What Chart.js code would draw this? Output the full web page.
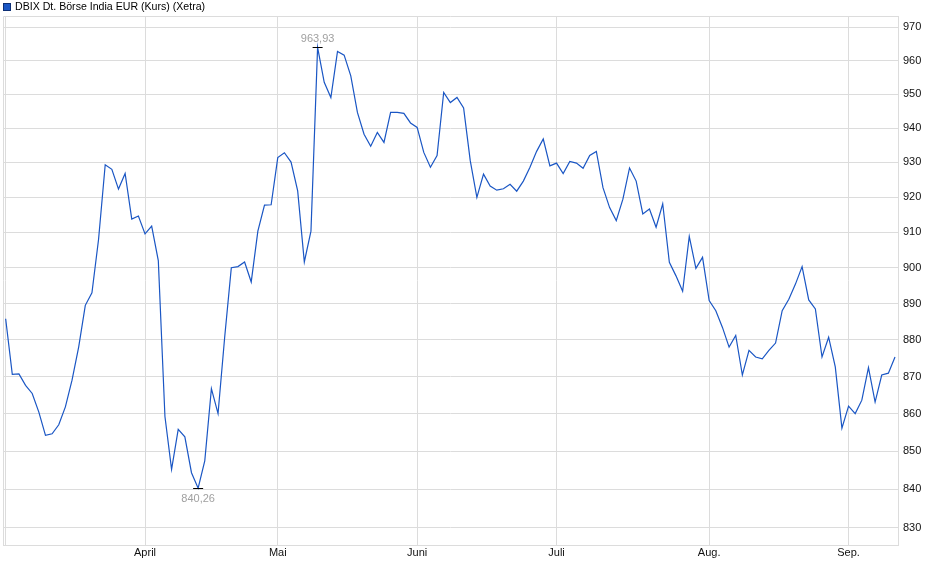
<!DOCTYPE html>
<html>
<head>
<meta charset="utf-8">
<script src="https://cdn.jsdelivr.net/npm/chart.js@4.4.1/dist/chart.umd.min.js"></script>
<style>
  html, body { margin: 0; padding: 0; background: #ffffff; }
  #wrap { width: 940px; height: 579px; position: relative; }
</style>
</head>
<body>
<div id="wrap"><canvas id="c" width="940" height="579"></canvas></div>
<script>
// Series title
const seriesName = 'DBIX Dt. Börse India EUR (Kurs) (Xetra)';

// Daily closes (trading days, 3 Mar – 10 Sep)
const closeValues = [
  885.8, 870.6, 870.7, 867.6, 865.4, 860.4, 854.2, 854.6, 857.0, 861.8,
  869.0, 878.0, 889.5, 893.0, 908.0, 929.3, 928.0, 922.3, 926.8, 913.7,
  914.6, 909.5, 911.7, 902.0, 859.2, 845.2, 855.8, 853.8, 844.3, 840.26,
  847.4, 866.7, 860.0, 880.7, 900.0, 900.3, 901.6, 896.0, 910.3, 917.7,
  917.8, 931.4, 932.8, 930.1, 921.8, 901.6, 910.3, 963.93, 953.5, 949.0,
  962.7, 961.6, 955.4, 944.6, 938.2, 934.7, 938.7, 935.8, 944.6, 944.6,
  944.3, 941.5, 940.2, 932.9, 928.6, 932.0, 950.5, 947.5, 949.0, 945.9,
  930.5, 919.9, 926.6, 923.2, 922.0, 922.4, 923.7, 921.7, 924.6, 928.6,
  933.2, 936.8, 929.0, 929.8, 926.8, 930.3, 929.8, 928.3, 932.0, 933.2,
  922.7, 917.0, 913.3, 919.4, 928.4, 924.6, 915.2, 916.6, 911.4, 918.1,
  901.5, 897.7, 893.4, 908.8, 899.8, 902.9, 890.8, 888.0, 883.4, 878.0,
  881.2, 870.4, 877.1, 875.3, 874.8, 877.1, 879.1, 888.0, 891.2, 895.4,
  900.3, 891.0, 888.5, 875.3, 880.7, 872.6, 856.1, 862.0, 860.0, 863.6,
  872.4, 863.1, 870.4, 870.9, 875.3
];

// First trading day of each month (index into closeValues) and its label
const monthTickIndex  = [0, 21, 41, 62, 83, 106, 127];
const monthTickLabels = ['', 'April', 'Mai', 'Juni', 'Juli', 'Aug.', 'Sep.'];

// Right-axis tick values
const yTickValues = [830, 840, 850, 860, 870, 880, 890, 900, 910, 920, 930, 940, 950, 960, 970];

const FONT = '"Liberation Sans", Arial, sans-serif';
const GRID = '#dcdcdc';
const LINE = '#1a56c4';

const fmt = v => v.toFixed(2).replace('.', ',');

const decorPlugin = {
  id: 'decor',
  beforeDatasetsDraw(chart) {
    const { ctx, chartArea: a } = chart;
    ctx.save();
    ctx.strokeStyle = GRID;
    ctx.lineWidth = 1;
    ctx.beginPath();
    ctx.moveTo(a.left + 0.5, a.bottom);
    ctx.lineTo(a.left + 0.5, a.top + 0.5);
    ctx.lineTo(a.right, a.top + 0.5);
    ctx.stroke();
    ctx.restore();
  },
  afterDraw(chart) {
    const { ctx } = chart;
    const xs = chart.scales.x, ys = chart.scales.y;
    ctx.save();
    // legend
    ctx.fillStyle = LINE;
    ctx.fillRect(3, 3, 8, 8);
    ctx.strokeStyle = '#0d2f75';
    ctx.lineWidth = 1;
    ctx.strokeRect(3.5, 3.5, 7, 7);
    ctx.fillStyle = '#000';
    ctx.font = '10.6px ' + FONT;
    ctx.textBaseline = 'middle';
    ctx.textAlign = 'left';
    ctx.fillText(seriesName, 15, 7.5);

    // max / min markers
    let iMax = 0, iMin = 0;
    closeValues.forEach((v, i) => {
      if (v > closeValues[iMax]) iMax = i;
      if (v < closeValues[iMin]) iMin = i;
    });
    ctx.font = '11px ' + FONT;
    const mark = (i, above) => {
      const px = xs.getPixelForValue(i);
      const py = Math.round(ys.getPixelForValue(closeValues[i])) + 0.5;
      ctx.strokeStyle = '#000';
      ctx.lineWidth = 1;
      ctx.beginPath();
      ctx.moveTo(px - 5, py);
      ctx.lineTo(px + 5, py);
      ctx.stroke();
      ctx.fillStyle = '#a0a0a0';
      ctx.textAlign = 'center';
      ctx.textBaseline = above ? 'bottom' : 'top';
      ctx.fillText(fmt(closeValues[i]), px, above ? py - 3 : py + 5);
    };
    mark(iMax, true);
    mark(iMin, false);
    ctx.restore();
  }
};

new Chart(document.getElementById('c'), {
  type: 'line',
  data: {
    datasets: [{
      label: seriesName,
      data: closeValues.map((v, i) => ({ x: i, y: v })),
      borderColor: LINE,
      backgroundColor: LINE,
      borderWidth: 1.2,
      pointRadius: 0,
      tension: 0,
      fill: false
    }]
  },
  options: {
    responsive: false,
    animation: false,
    devicePixelRatio: 1,
    layout: { padding: { left: 3, top: 16, right: 0, bottom: 0 } },
    plugins: { legend: { display: false }, tooltip: { enabled: false } },
    scales: {
      x: {
        type: 'linear',
        min: -0.4,
        max: closeValues.length - 1 + 0.45,
        afterBuildTicks: s => { s.ticks = monthTickIndex.map(v => ({ value: v })); },
        afterFit: s => { s.height = 34; },
        ticks: {
          autoSkip: false,
          maxRotation: 0,
          padding: 1,
          color: '#111',
          font: { family: FONT, size: 11 },
          callback: (v, idx) => monthTickLabels[idx]
        },
        grid: { color: GRID, drawTicks: false, lineWidth: 1 },
        border: { color: GRID }
      },
      y: {
        type: 'logarithmic',
        position: 'right',
        min: 825.5,
        max: 973.4,
        afterBuildTicks: s => { s.ticks = yTickValues.map(v => ({ value: v })); },
        afterFit: s => { s.width = 42; },
        ticks: {
          padding: 5,
          color: '#111',
          font: { family: FONT, size: 11 },
          callback: v => String(v)
        },
        grid: { color: GRID, drawTicks: false, lineWidth: 1 },
        border: { color: GRID }
      }
    }
  },
  plugins: [decorPlugin]
});
</script>
</body>
</html>
